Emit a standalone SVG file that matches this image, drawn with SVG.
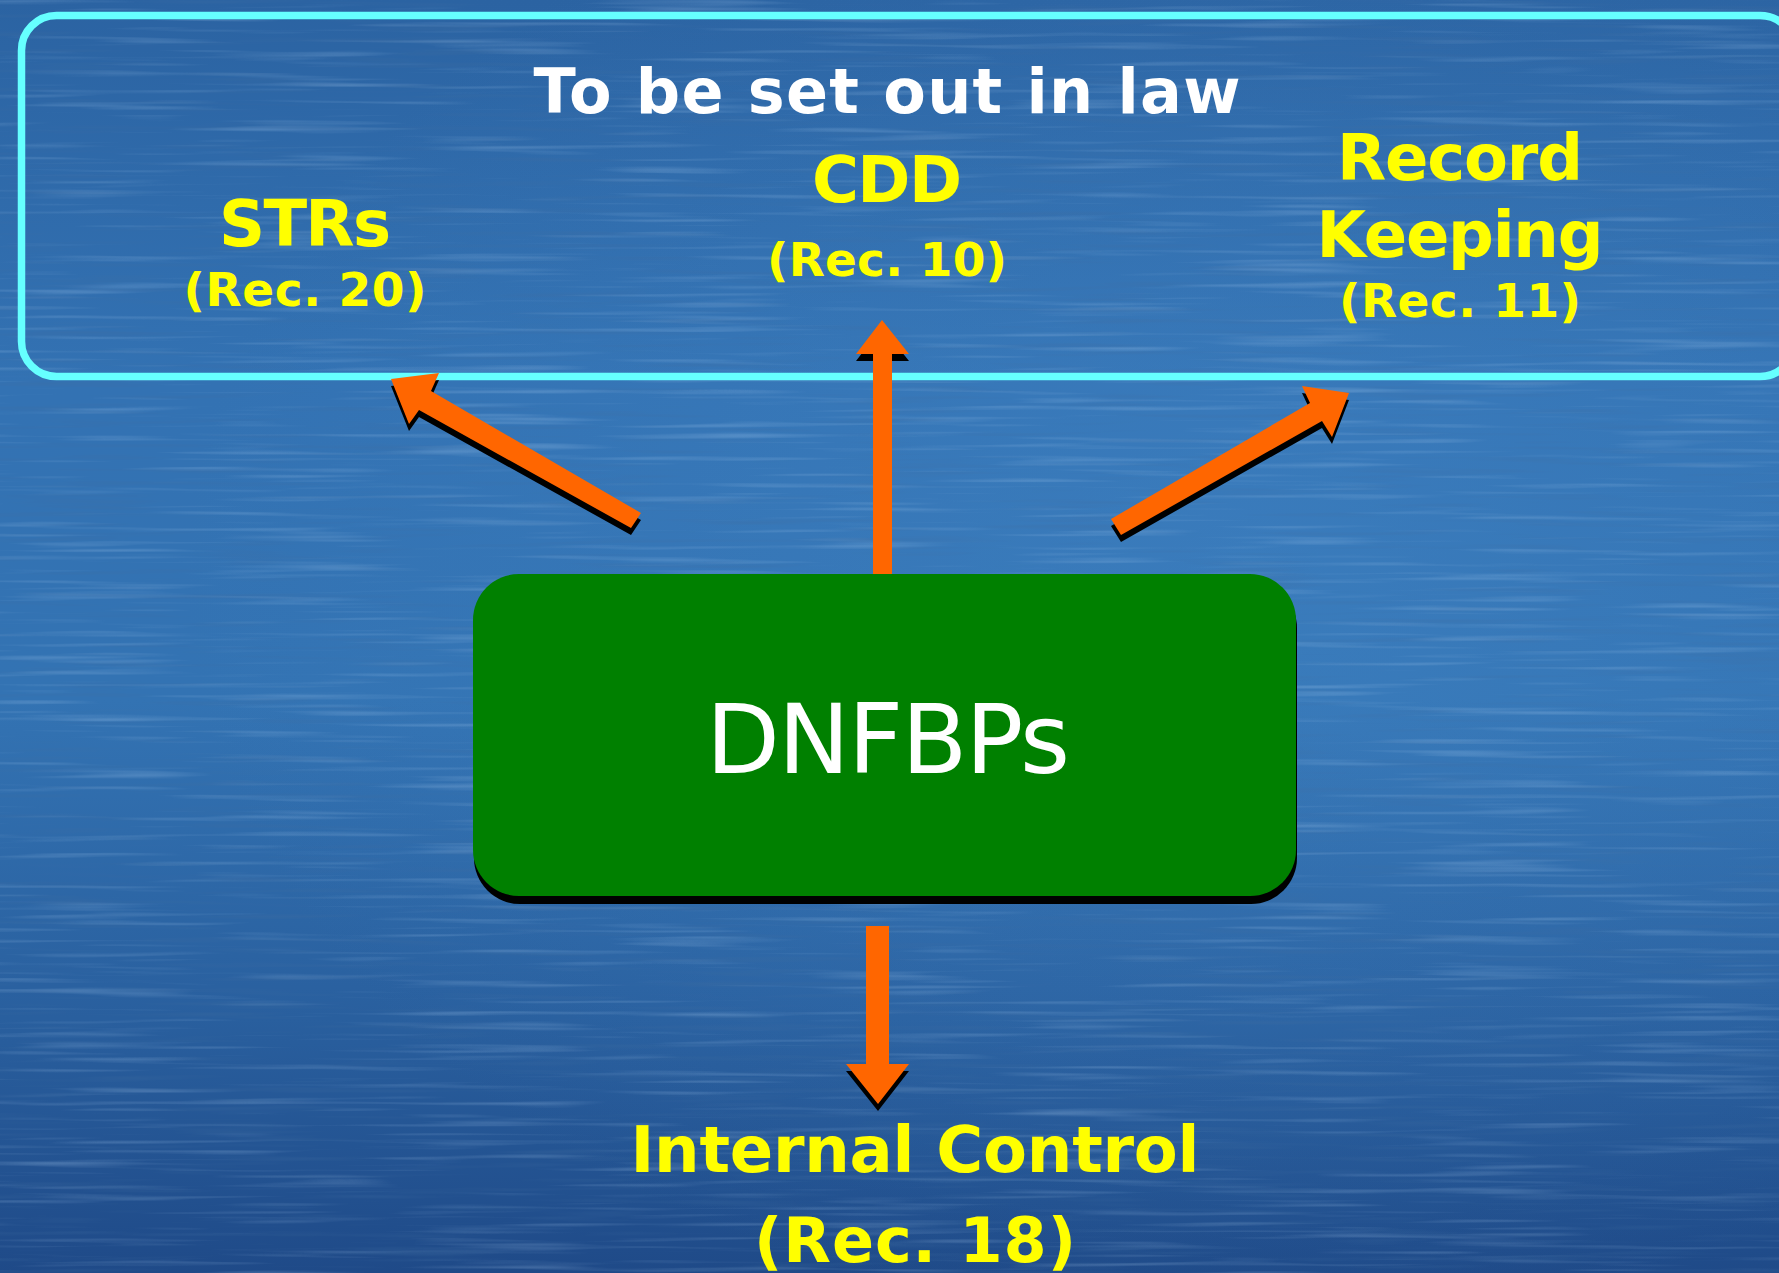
<svg xmlns="http://www.w3.org/2000/svg" width="1779" height="1273" viewBox="0 0 1779 1273">
  <defs>
    <linearGradient id="bg" x1="0" y1="0" x2="0" y2="1">
      <stop offset="0" stop-color="#2b63a2"/>
      <stop offset="0.3" stop-color="#3372b3"/>
      <stop offset="0.55" stop-color="#3373b3"/>
      <stop offset="0.8" stop-color="#295f9e"/>
      <stop offset="1" stop-color="#1f4a88"/>
    </linearGradient>
    <radialGradient id="glow" cx="0.7" cy="0.45" r="0.6">
      <stop offset="0" stop-color="#4a90d0" stop-opacity="0.3"/>
      <stop offset="1" stop-color="#4a90d0" stop-opacity="0"/>
    </radialGradient>
    <filter id="streakLight" x="0" y="0" width="100%" height="100%">
      <feTurbulence type="fractalNoise" baseFrequency="0.005 0.18" numOctaves="2" seed="4"/>
      <feColorMatrix type="matrix" values="0 0 0 0 0.45  0 0 0 0 0.65  0 0 0 0 0.9  0.7 0 0 0 -0.38"/>
    </filter>
    <filter id="streakDark" x="0" y="0" width="100%" height="100%">
      <feTurbulence type="fractalNoise" baseFrequency="0.006 0.16" numOctaves="2" seed="11"/>
      <feColorMatrix type="matrix" values="0 0 0 0 0.05  0 0 0 0 0.15  0 0 0 0 0.35  -0.8 0 0 0 0.36"/>
    </filter>
    <style>
      .y { fill:#ffff00; font-family:"DejaVu Sans","Verdana",sans-serif; font-weight:bold; text-anchor:middle; }
      .w { fill:#ffffff; font-family:"DejaVu Sans","Verdana",sans-serif; text-anchor:middle; }
      .ar { fill:#ff6600; }
      .sh { fill:#000000; }
    </style>
  </defs>

  <g id="background">
    <rect x="0" y="0" width="1779" height="1273" fill="url(#bg)"/>
    <rect x="0" y="0" width="1779" height="1273" fill="url(#glow)"/>
    <rect x="0" y="0" width="1779" height="1273" filter="url(#streakLight)"/>
    <rect x="0" y="0" width="1779" height="1273" filter="url(#streakDark)"/>
  </g>

  <g id="law-frame">
    <rect x="21.5" y="15.5" width="1773.5" height="361" rx="35" ry="35" fill="none" stroke="#66ffff" stroke-width="7.5"/>
    <text class="w" x="887" y="113" font-size="62" font-weight="bold" textLength="707">To be set out in law</text>
  </g>

  <g id="strs">
    <text class="y" x="305" y="246" font-size="64" textLength="172">STRs</text>
    <text class="y" x="305" y="306" font-size="47" textLength="243">(Rec. 20)</text>
  </g>

  <g id="cdd">
    <text class="y" x="887" y="202" font-size="64" textLength="150">CDD</text>
    <text class="y" x="887" y="276" font-size="47" textLength="240">(Rec. 10)</text>
  </g>

  <g id="record-keeping">
    <text class="y" x="1460" y="180" font-size="64" textLength="246">Record</text>
    <text class="y" x="1460" y="257" font-size="64" textLength="287">Keeping</text>
    <text class="y" x="1460" y="317" font-size="47" textLength="242">(Rec. 11)</text>
  </g>

  <g id="connectors">
    <!-- to STRs -->
    <polygon class="sh" transform="translate(0,7)" points="391,379 439,373 431,391 641,513 631,528 419,410 409,424"/>
    <polygon class="ar" points="391,379 439,373 431,391 641,513 631,528 419,410 409,424"/>
    <!-- to Record Keeping -->
    <polygon class="sh" transform="translate(0,7)" points="1111,519 1310,403 1302,386 1349,393 1332,437 1322,421 1121,535"/>
    <polygon class="ar" points="1111,519 1310,403 1302,386 1349,393 1332,437 1322,421 1121,535"/>
    <!-- to CDD -->
    <polygon class="sh" transform="translate(0,7)" points="882,320 909,354 892,354 892,560 873,560 873,354 856,354"/>
    <polygon class="ar" points="882,320 909,354 892,354 892,575 873,575 873,354 856,354"/>
    <!-- to Internal Control -->
    <polygon class="sh" transform="translate(0,7)" points="866,926 889,926 889,1064 909,1064 878,1104 846,1064 866,1064"/>
    <polygon class="ar" points="866,926 889,926 889,1064 909,1064 878,1104 846,1064 866,1064"/>
  </g>

  <g id="dnfbps">
    <rect x="474" y="582" width="823" height="322" rx="46" ry="46" fill="#000000"/>
    <rect x="473" y="574" width="823" height="322" rx="46" ry="46" fill="#008000"/>
    <text class="w" x="888" y="773" font-size="96" textLength="364">DNFBPs</text>
  </g>

  <g id="internal-control">
    <text class="y" x="915" y="1172" font-size="64" textLength="569">Internal Control</text>
    <text class="y" x="915" y="1262" font-size="62" textLength="322">(Rec. 18)</text>
  </g>
</svg>
